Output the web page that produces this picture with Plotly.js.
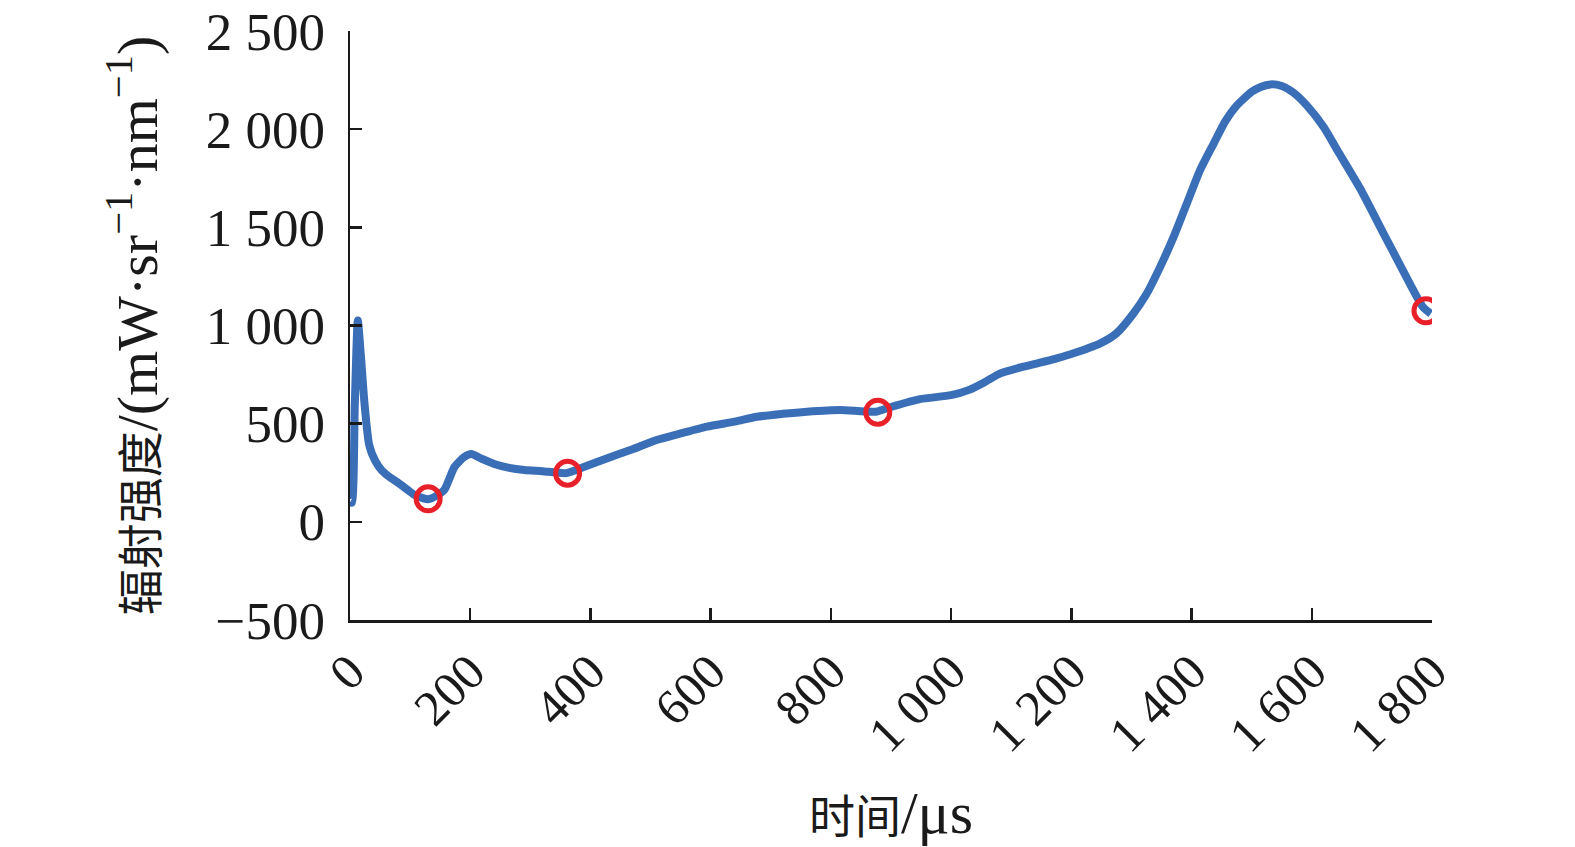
<!DOCTYPE html>
<html>
<head>
<meta charset="utf-8">
<script src="https://cdn.plot.ly/plotly-3.0.1.min.js"></script>
<style>html,body{margin:0;padding:0;background:#fff;}#chart{width:1575px;height:847px;}</style>
</head>
<body>
<div id="chart"></div>
<script>
// time (μs)
var timeUs = [0, 3, 8, 13, 18, 24, 32, 42, 52, 65, 80, 95, 107, 120, 130, 145, 157, 174, 190, 202, 220, 240, 265, 290, 320, 360, 390, 427, 470, 510, 550, 594, 640, 677, 720, 760, 815, 875, 900, 948, 1000, 1030, 1055, 1082, 1120, 1165, 1200, 1248, 1275, 1303, 1325, 1348, 1370, 1392, 1414, 1437, 1456, 1475, 1500, 1515, 1531, 1550, 1570, 1592, 1620, 1645, 1680, 1719, 1750, 1785, 1798];
// radiance (mW·sr^-1·nm^-1)
var radiance = [100, 97, 600, 1025, 850, 607, 390, 310, 265, 230, 199, 165, 138, 122, 115, 135, 163, 280, 330, 345, 320, 295, 275, 264, 258, 248, 280, 323, 370, 417, 450, 485, 510, 535, 550, 561, 570, 561, 585, 625, 645, 672, 710, 756, 790, 824, 855, 909, 960, 1060, 1160, 1300, 1450, 1620, 1790, 1928, 2040, 2120, 2190, 2215, 2228, 2220, 2185, 2120, 2010, 1880, 1700, 1471, 1290, 1094, 1060];
// marked points
var markTime = [130, 362, 878, 1790];
var markValue = [117, 248, 558, 1075];

var xTickVals = [0, 200, 400, 600, 800, 1000, 1200, 1400, 1600, 1800];
var xTickText = ['0', '200', '400', '600', '800', '1 000', '1 200', '1 400', '1 600', '1 800'];
var yTickVals = [-500, 0, 500, 1000, 1500, 2000, 2500];
var yTickText = ['\u2212500', '0', '500', '1 000', '1 500', '2 000', '2 500'];

var fontFam = '"Liberation Serif", "Times New Roman", "Noto Sans CJK SC", serif';
var ink = '#1a1a1a';

var traces = [
  {
    x: timeUs, y: radiance, type: 'scatter', mode: 'lines',
    line: {color: '#3a6fb8', width: 8, shape: 'spline', smoothing: 0.6},
    hoverinfo: 'skip', showlegend: false
  },
  {
    x: markTime, y: markValue, type: 'scatter', mode: 'markers',
    marker: {symbol: 'circle-open', size: 24, color: '#e8202a', line: {color: '#e8202a', width: 5}},
    showlegend: false
  }
];

var layout = {
  width: 1575, height: 847,
  margin: {l: 350, r: 143, t: 31, b: 227},
  paper_bgcolor: '#fff', plot_bgcolor: '#fff',
  font: {family: fontFam, color: ink, size: 53},
  showlegend: false,
  xaxis: {
    range: [0, 1800], tickmode: 'array', tickvals: xTickVals, ticktext: xTickText,
    tickangle: -45, ticks: 'inside', ticklen: 12, tickwidth: 2.5, tickcolor: ink,
    showline: true, linecolor: ink, linewidth: 2.5, showgrid: false, zeroline: false,
    tickfont: {family: fontFam, size: 50, color: ink},
    title: {text: '<span style="font-size:46px">时间</span>/μs', font: {family: fontFam, size: 60, color: ink}, standoff: 30}
  },
  yaxis: {
    range: [-500, 2500], tickmode: 'array', tickvals: yTickVals, ticktext: yTickText,
    ticks: 'inside', ticklen: 12, tickwidth: 2.5, tickcolor: ink,
    showline: true, linecolor: ink, linewidth: 2.5, showgrid: false, zeroline: false,
    ticklabelstandoff: 12,
    tickfont: {family: fontFam, size: 53, color: ink},
    title: {text: '<span style="font-size:46px">辐射强度</span>/(mW·sr<sup>−1</sup>·nm<sup>−1</sup>)', font: {family: fontFam, size: 58, color: ink}, standoff: 30}
  }
};

Plotly.newPlot('chart', traces, layout, {staticPlot: true, displayModeBar: false});
</script>
</body>
</html>
